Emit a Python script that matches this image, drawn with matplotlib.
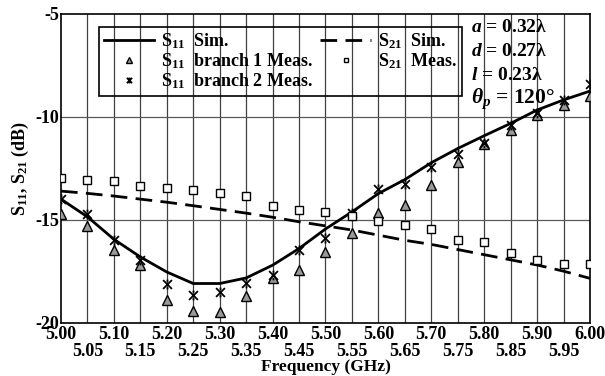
import numpy as np
import matplotlib
matplotlib.use("Agg")
import matplotlib.pyplot as plt
from matplotlib.ticker import FixedLocator
from matplotlib.path import Path

plt.rcParams['font.family'] = ['Liberation Serif', 'DejaVu Serif']
plt.rcParams['font.weight'] = 'bold'
plt.rcParams['axes.labelweight'] = 'bold'
plt.rcParams['axes.unicode_minus'] = False
plt.rcParams['mathtext.fontset'] = 'custom'
plt.rcParams['mathtext.rm'] = 'Liberation Serif:bold'
plt.rcParams['mathtext.it'] = 'Liberation Serif:bold:italic'
plt.rcParams['mathtext.bf'] = 'Liberation Serif:bold'

# frequency points (GHz)
freq = [5.00, 5.05, 5.10, 5.15, 5.20, 5.25, 5.30, 5.35, 5.40, 5.45, 5.50,
        5.55, 5.60, 5.65, 5.70, 5.75, 5.80, 5.85, 5.90, 5.95, 6.00]

s11_sim = [-14.0, -14.86, -15.95, -16.81, -17.54, -18.1, -18.1, -17.83, -17.21,
           -16.4, -15.45, -14.62, -13.73, -13.05, -12.23, -11.54, -10.92, -10.32,
           -9.67, -9.18, -8.75]
s11_b1 = [-14.7, -15.32, -16.48, -17.18, -18.92, -19.44, -19.49, -18.71, -17.81,
          -17.46, -16.57, -15.67, -14.65, -14.3, -13.32, -12.19, -11.33, -10.65,
          -9.91, -9.43, -9.0]
s11_b2 = [-14.0, -14.7, -16.0, -16.97, -18.1, -18.67, -18.51, -18.06, -17.7,
          -16.45, -15.87, -14.65, -13.53, -13.27, -12.43, -11.81, -11.29, -10.4,
          -9.8, -9.18, -8.42]
s21_sim = [-13.61, -13.72, -13.85, -14.0, -14.15, -14.32, -14.5, -14.68, -14.88,
           -15.1, -15.3, -15.5, -15.75, -16.0, -16.2, -16.45, -16.7, -16.95,
           -17.2, -17.5, -17.85]
s21_meas = [-12.95, -13.06, -13.11, -13.37, -13.48, -13.56, -13.68, -13.86, -14.33,
            -14.51, -14.62, -14.83, -15.06, -15.25, -15.46, -15.98, -16.09, -16.63,
            -16.97, -17.15, -17.17]

# "x" with a small vertical bar, like the measured branch-2 marker
xbar = Path([(-1, -1), (1, 1), (-1, 1), (1, -1), (0, 0.6), (0, 1.1), (0, -0.6), (0, -1.1)],
            [Path.MOVETO, Path.LINETO] * 4)

fig = plt.figure(figsize=(6.05, 3.76), dpi=100)
ax = fig.add_axes([0.1008, 0.142, 0.8744, 0.821])

# grid
for f in freq[1:-1]:
    ax.axvline(f, color='0.25', lw=0.9, zorder=0)
for yv in [-10, -15]:
    ax.axhline(yv, color='0.35', lw=0.9, zorder=0)

ax.plot(freq, s11_sim, color='k', lw=2.0, label='S$_{11}$  Sim.', zorder=3)
ax.plot(freq, s11_b1, ls='none', marker='^', ms=6.5, mfc='0.6', mec='k', mew=1.0,
        label='S$_{11}$  branch 1 Meas.', zorder=4)
ax.plot(freq, s11_b2, ls='none', marker=xbar, ms=7, mfc='none', mec='k', mew=1.3,
        label='S$_{11}$  branch 2 Meas.', zorder=4)
ax.plot(freq, s21_sim, color='k', lw=2.0, ls=(0, (6, 3)), label='S$_{21}$  Sim.', zorder=3)
ax.plot(freq, s21_meas, ls='none', marker='s', ms=6, mfc='white', mec='k', mew=1.0,
        label='S$_{21}$  Meas.', zorder=4)

ax.set_xlim(5.0, 6.0)
ax.set_ylim(-20, -5)
ax.xaxis.set_major_locator(FixedLocator(freq[0::2]))
ax.xaxis.set_minor_locator(FixedLocator(freq[1::2]))
ax.set_xticklabels(['%.2f' % f for f in freq[0::2]])
ax.set_xticklabels(['%.2f' % f for f in freq[1::2]], minor=True)
ax.yaxis.set_major_locator(FixedLocator([-20, -15, -10, -5]))
ax.tick_params(axis='x', which='major', length=0, pad=2.5, labelsize=13)
ax.tick_params(axis='x', which='minor', length=0, pad=15, labelsize=13)
ax.tick_params(axis='y', length=0, pad=1, labelsize=13)
for sp in ax.spines.values():
    sp.set_linewidth(1.2)

ax.set_xlabel('Frequency (GHz)', fontsize=12.5, va='center')
ax.xaxis.set_label_coords(0.5, -0.143)
ax.set_ylabel('S$_{11}$, S$_{21}$ (dB)', fontsize=13, va='center')
ax.yaxis.set_label_coords(-0.077, 0.5)

leg = ax.legend(ncol=2, loc='upper left', bbox_to_anchor=(0.072, 0.958),
                borderaxespad=0, fontsize=13, frameon=True, fancybox=False,
                edgecolor='k', framealpha=1, labelspacing=0.02, handlelength=2.8,
                markerscale=0.6, handletextpad=0.4, columnspacing=0.4, borderpad=0.25)
leg.get_frame().set_facecolor('none')
leg.get_frame().set_linewidth(1.2)

ax.text(0.775, 0.955, '$a$ = 0.32λ', transform=ax.transAxes, fontsize=14, va='center')
ax.text(0.775, 0.877, '$d$ = 0.27λ', transform=ax.transAxes, fontsize=14, va='center')
ax.text(0.775, 0.80, '$l$ = 0.23λ', transform=ax.transAxes, fontsize=14, va='center')
ax.text(0.775, 0.725, r'$\theta_p$ = 120°', transform=ax.transAxes, fontsize=15.5, va='center')

fig.savefig('out.png', dpi=100)
